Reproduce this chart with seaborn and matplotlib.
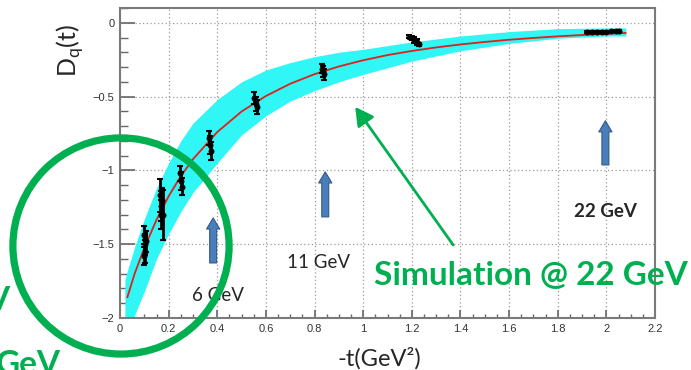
import matplotlib
matplotlib.use("Agg")
import matplotlib.pyplot as plt
import seaborn as sns
from matplotlib.patches import Ellipse, FancyArrowPatch
from matplotlib.ticker import MultipleLocator

# Fitted D-term form factor (central curve)
t_curve = [0.03, 0.06, 0.10, 0.15, 0.20, 0.25, 0.30, 0.40, 0.50, 0.60, 0.70,
           0.80, 0.90, 1.00, 1.10, 1.20, 1.30, 1.40, 1.50, 1.60, 1.70, 1.80,
           1.90, 2.00, 2.08]
d_curve = [-1.86, -1.70, -1.525, -1.335, -1.175, -1.039, -0.924, -0.740,
           -0.601, -0.496, -0.413, -0.348, -0.296, -0.254, -0.219, -0.191,
           -0.167, -0.147, -0.130, -0.115, -0.103, -0.092, -0.083, -0.075,
           -0.069]

# Uncertainty band of the simulation
t_band = [0.02, 0.03, 0.06, 0.10, 0.15, 0.20, 0.25, 0.30, 0.40, 0.50, 0.60,
          0.70, 0.80, 0.90, 1.00, 1.20, 1.40, 1.60, 1.80, 2.00, 2.08]
band_hi = [-1.74, -1.68, -1.52, -1.33, -1.12, -0.95, -0.80, -0.68, -0.52,
           -0.40, -0.32, -0.27, -0.23, -0.20, -0.18, -0.13, -0.09, -0.06,
           -0.04, -0.035, -0.035]
band_lo = [-2.15, -2.10, -1.98, -1.82, -1.60, -1.43, -1.28, -1.15, -0.95,
           -0.76, -0.63, -0.53, -0.46, -0.40, -0.35, -0.26, -0.19, -0.14,
           -0.105, -0.09, -0.09]

# Pseudo-data points with errors
t_pts = [0.098, 0.101, 0.104, 0.107, 0.100,
         0.163, 0.167, 0.170, 0.176, 0.172,
         0.247, 0.250, 0.253,
         0.366, 0.370, 0.374,
         0.553, 0.558, 0.563,
         0.830, 0.835, 0.840,
         1.190, 1.200, 1.210, 1.220, 1.230,
         1.920, 1.940, 1.960, 1.980, 2.000, 2.020, 2.040, 2.050]
d_pts = [-1.44, -1.50, -1.55, -1.48, -1.58,
         -1.17, -1.24, -1.30, -1.30, -1.20,
         -1.02, -1.07, -1.11,
         -0.78, -0.83, -0.87,
         -0.51, -0.55, -0.57,
         -0.31, -0.33, -0.35,
         -0.095, -0.105, -0.115, -0.130, -0.145,
         -0.064, -0.063, -0.062, -0.061, -0.060, -0.059, -0.058, -0.057]
d_err = [0.06, 0.07, 0.08, 0.07, 0.06,
         0.11, 0.10, 0.10, 0.17, 0.08,
         0.05, 0.06, 0.06,
         0.05, 0.06, 0.06,
         0.04, 0.05, 0.05,
         0.03, 0.04, 0.04,
         0.010, 0.015, 0.020, 0.020, 0.010,
         0.006, 0.006, 0.006, 0.006, 0.006, 0.006, 0.006, 0.006]

GREEN = "#00B050"
BLUE_FACE = "#4A7EBB"
BLUE_EDGE = "#31598A"

sns.set_style("white")
plt.rcParams["font.family"] = ["Liberation Sans", "DejaVu Sans"]

fig = plt.figure(figsize=(6.91, 3.70), dpi=100)
ax = fig.add_axes([0.1737, 0.1405, 0.7742, 0.8379])

ax.fill_between(t_band, band_lo, band_hi, color="#30F6F6", lw=0, zorder=1)
sns.lineplot(x=t_curve, y=d_curve, color="#E0201C", lw=1.3, ax=ax, zorder=3)
ax.errorbar(t_pts, d_pts, yerr=d_err, fmt="none", ecolor="black",
            elinewidth=2.0, capsize=2, capthick=1.5, zorder=4)
sns.scatterplot(x=t_pts, y=d_pts, color="black", s=14, edgecolor="black",
                linewidth=0.5, ax=ax, zorder=5)

ax.set_xlim(0, 2.2)
ax.set_ylim(-2, 0.1)
ax.xaxis.set_major_locator(MultipleLocator(0.2))
ax.xaxis.set_minor_locator(MultipleLocator(0.05))
ax.yaxis.set_major_locator(MultipleLocator(0.5))
ax.yaxis.set_minor_locator(MultipleLocator(0.1))
ax.xaxis.set_major_formatter(plt.FuncFormatter(lambda v, p: f"{v:g}".replace("-", "\u2212")))
ax.yaxis.set_major_formatter(plt.FuncFormatter(lambda v, p: f"{v:g}".replace("-", "\u2212")))
ax.grid(True, which="major", color="#9a9a9a", lw=0.9, ls=(0, (1, 2)), zorder=0)
ax.tick_params(axis="x", which="major", direction="in", length=6, width=1.2,
               color="#666666", labelsize=8, labelcolor="#333333", pad=4,
               bottom=True, top=False)
ax.tick_params(axis="x", which="minor", direction="in", length=3, width=1.0,
               color="#666666", bottom=True, top=False)
ax.tick_params(axis="y", which="major", direction="in", length=11, width=1.2,
               color="#666666", labelsize=8, labelcolor="#333333", pad=4,
               left=True, right=False)
ax.tick_params(axis="y", which="minor", direction="in", length=6, width=1.0,
               color="#666666", left=True, right=False)
for side in ["left", "right", "top", "bottom"]:
    ax.spines[side].set_color("#7a7a7a")
    ax.spines[side].set_linewidth(1.5)

ax.set_xlabel("")
ax.set_ylabel("")
fig.text(379 / 691, 1 - 358 / 370, "-t(GeV\u00b2)", family=["Lato", "DejaVu Sans"],
         fontsize=17, ha="center", va="center")
fig.text(70 / 691, 1 - 50 / 370, r"D$_\mathregular{q}$(t)", family=["Lato", "DejaVu Sans"],
         fontsize=18, ha="center", va="center", rotation=90)

# Beam energy markers
for tx, y0, y1 in [(0.383, -1.627, -1.322), (0.844, -1.315, -1.01), (1.996, -0.963, -0.664)]:
    ax.add_patch(FancyArrowPatch((tx, y0), (tx, y1),
                                 arrowstyle="simple,head_length=0.8,head_width=0.95,tail_width=0.5",
                                 mutation_scale=10, fc=BLUE_FACE, ec=BLUE_EDGE, lw=0.8,
                                 zorder=6, shrinkA=0, shrinkB=0))
ax.text(0.403, -1.85, "6 GeV", family=["Lato", "DejaVu Sans"], fontsize=13.5,
        ha="center", va="center", zorder=7)
ax.text(0.815, -1.627, "11 GeV", family=["Lato", "DejaVu Sans"], fontsize=13.5,
        ha="center", va="center", zorder=7)
ax.text(1.996, -1.28, "22 GeV", family=["Lato", "DejaVu Sans"], fontsize=13.5,
        fontweight="bold", ha="center", va="center", zorder=7)

# Simulation callout
ax.add_patch(FancyArrowPatch((1.37, -1.505), (0.967, -0.57),
                             arrowstyle="-|>,head_length=0.55,head_width=0.3",
                             mutation_scale=20, color=GREEN, lw=2.0,
                             shrinkA=0, shrinkB=0, zorder=6, clip_on=False))
ax.text(1.69, -1.71, "Simulation @ 22 GeV", family=["Lato", "DejaVu Sans"],
        fontsize=24, fontweight="bold", color=GREEN, ha="center", va="center",
        zorder=8, clip_on=False)

# Low -t region highlight
ax.add_patch(Ellipse((0.004, -1.512), width=0.889, height=1.464, fill=False,
                     ec=GREEN, lw=5.2, clip_on=False, zorder=9))

fig.text(9 / 691, 1 - 310 / 370, "V", family=["Lato", "DejaVu Sans"], fontsize=24,
         fontweight="bold", color=GREEN, ha="right", va="baseline")
fig.text(-4 / 691, 1 - 374 / 370, "GeV", family=["Lato", "DejaVu Sans"], fontsize=24,
         fontweight="bold", color=GREEN, ha="left", va="baseline")

fig.savefig("out.png", dpi=100)
